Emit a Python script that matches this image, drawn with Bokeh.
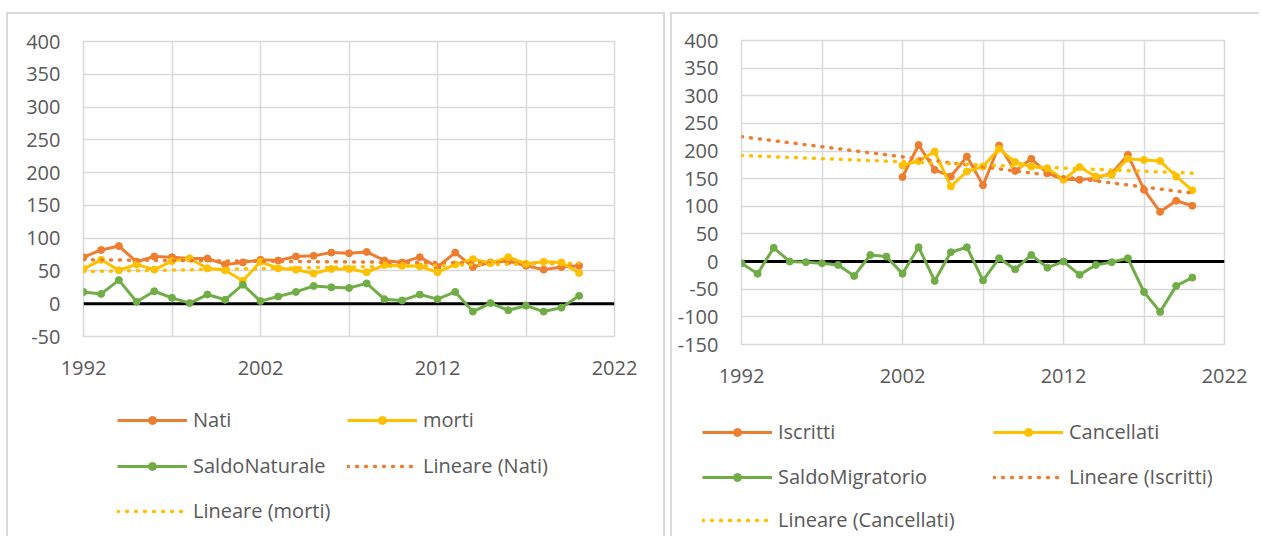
from bokeh.plotting import figure
from bokeh.models import Range1d, FixedTicker, Span, Legend, LegendItem
from bokeh.layouts import row, column
from bokeh.embed import file_html
from bokeh.resources import INLINE

# ---------------- data ----------------
years = [1992, 1993, 1994, 1995, 1996, 1997, 1998, 1999, 2000, 2001,
         2002, 2003, 2004, 2005, 2006, 2007, 2008, 2009, 2010, 2011,
         2012, 2013, 2014, 2015, 2016, 2017, 2018, 2019, 2020]
nati = [71, 82, 88, 64, 72, 71, 69, 69, 60, 63,
        67, 66, 72, 73, 78, 77, 79, 66, 63, 71,
        56, 78, 56, 63, 65, 58, 52, 56, 58]
morti = [53, 67, 51, 60, 52, 65, 69, 54, 51, 35,
         64, 54, 52, 46, 53, 53, 48, 59, 58, 57,
         48, 60, 68, 62, 71, 61, 64, 63, 47]
saldo_naturale = [18, 15, 36, 3, 19, 9, 1, 14, 6, 29,
                  4, 11, 18, 27, 25, 24, 31, 7, 5, 14,
                  7, 18, -12, 1, -10, -3, -12, -6, 12]

years_mov = [2002, 2003, 2004, 2005, 2006, 2007, 2008, 2009, 2010, 2011,
             2012, 2013, 2014, 2015, 2016, 2017, 2018, 2019, 2020]
iscritti = [153, 211, 166, 154, 190, 138, 210, 164, 186, 160,
            149, 148, 151, 160, 193, 130, 90, 110, 101]
cancellati = [174, 182, 199, 136, 163, 172, 204, 180, 172, 169,
              148, 171, 154, 157, 186, 184, 182, 154, 129]
saldo_migratorio = [-3, -22, 25, 0, -1, -3, -6, -26, 12, 9,
                    -22, 26, -35, 17, 26, -34, 6, -14, 12, -11,
                    0, -24, -6, -1, 6, -55, -91, -44, -29]

# linear trend lines ("Lineare"), end values
trend_years = [1992, 2020]
lineare_nati = [67, 61]
lineare_morti = [49, 62]
lineare_iscritti = [226, 124]
lineare_cancellati = [192, 160]

x_ticks = [1992, 2002, 2012, 2022]
x_minor_grid = [1997, 2007, 2017]
y_ticks_left = [-50, 0, 50, 100, 150, 200, 250, 300, 350, 400]
y_ticks_right = [-150, -100, -50, 0, 50, 100, 150, 200, 250, 300, 350, 400]

# ---------------- style ----------------
ORANGE = "#ED7D31"
YELLOW = "#FFC000"
GREEN = "#70AD47"
GRID = "#D9D9D9"
TXT = "#595959"
FONT = "Open Sans"
LEFT_PANEL_STYLE = {
    "background-color": "white",
    "box-shadow": ("inset -3px 0 0 0 white, inset 6px 12px 0 0 white, "
                   "inset 8px 14px 0 0 #D9D9D9, inset -5px 0 0 0 #D9D9D9"),
}
RIGHT_PANEL_STYLE = {
    "background-color": "white",
    "box-shadow": "inset 2px 12px 0 0 white, inset 4px 14px 0 0 #D9D9D9",
}


def base_figure(bl, fw, br, bt, fh, bb, ymin, ymax, yticks):
    p = figure(frame_width=fw, frame_height=fh,
               min_border_left=bl, min_border_right=br,
               min_border_top=bt, min_border_bottom=bb,
               x_range=Range1d(1992, 2022), y_range=Range1d(ymin, ymax),
               output_backend="svg", toolbar_location=None,
               background_fill_color="white", border_fill_alpha=0)
    p.outline_line_color = GRID
    p.outline_line_width = 1.5
    p.xaxis.ticker = FixedTicker(ticks=x_ticks)
    p.yaxis.ticker = FixedTicker(ticks=yticks)
    p.yaxis.major_label_overrides = {v: str(v) for v in yticks}
    p.xaxis.major_label_overrides = {v: str(v) for v in x_ticks}
    p.xgrid.ticker = FixedTicker(ticks=x_ticks, minor_ticks=x_minor_grid)
    p.ygrid.ticker = FixedTicker(ticks=yticks)
    for g in (p.xgrid, p.ygrid):
        g.grid_line_color = GRID
        g.grid_line_width = 1.5
    p.xgrid.minor_grid_line_color = GRID
    p.xgrid.minor_grid_line_width = 1.5
    for ax in (p.xaxis, p.yaxis):
        ax.axis_line_color = None
        ax.major_tick_line_color = None
        ax.minor_tick_line_color = None
        ax.major_tick_in = 0
        ax.major_tick_out = 0
        ax.major_label_text_font = FONT
        ax.major_label_text_font_size = "20px"
        ax.major_label_text_color = TXT
    p.xaxis.major_label_standoff = 24
    p.yaxis.major_label_standoff = 23
    p.add_layout(Span(location=0, dimension="width", line_color="black",
                      line_width=3, level="underlay"))
    return p


def legend_figure(w, h):
    # legend-only figure: its x range lies far from the data, so the key
    # renderers draw nothing in the frame, only in the legend
    p = figure(frame_width=w, frame_height=h, min_border=0,
               x_range=Range1d(0, 1), y_range=Range1d(0, 1),
               output_backend="svg", toolbar_location=None,
               background_fill_alpha=0, border_fill_alpha=0)
    p.axis.visible = False
    p.grid.visible = False
    p.outline_line_color = None
    return p


def series(p, xs, ys, color):
    ln = p.line(xs, ys, line_color=color, line_width=3, line_join="round")
    sc = p.scatter(xs, ys, size=7, fill_color=color, line_color=color)
    return [ln, sc]


def trendline(p, ys, color):
    return [p.line(trend_years, ys, line_color=color, line_width=3.5,
                   line_dash="1 8", line_cap="round")]


def legend_entry(lp, label, rs, x, yc, fig_h):
    lg = Legend(items=[LegendItem(label=label, renderers=rs)],
                location=(x, fig_h - yc - 10), orientation="vertical",
                glyph_width=70, glyph_height=20, label_height=20,
                label_standoff=6, spacing=0, padding=0, margin=0,
                border_line_color=None, background_fill_alpha=0,
                label_text_font=FONT, label_text_font_size="20px",
                label_text_color=TXT, label_text_baseline="middle")
    lp.add_layout(lg, "center")


# ---------------- left chart ----------------
pl = base_figure(83, 531, 54, 41, 295, 45, -50, 400, y_ticks_left)
series(pl, years, nati, ORANGE)
series(pl, years, morti, YELLOW)
series(pl, years, saldo_naturale, GREEN)
trendline(pl, lineare_nati, ORANGE)
trendline(pl, lineare_morti, YELLOW)

LH_L = 155
ll = legend_figure(668, LH_L)
legend_entry(ll, "Nati", series(ll, years, nati, ORANGE), 117, 42, LH_L)
legend_entry(ll, "morti", series(ll, years, morti, YELLOW), 347, 42, LH_L)
legend_entry(ll, "SaldoNaturale", series(ll, years, saldo_naturale, GREEN), 117, 88, LH_L)
legend_entry(ll, "Lineare (Nati)", trendline(ll, lineare_nati, ORANGE), 347, 88, LH_L)
legend_entry(ll, "Lineare (morti)", trendline(ll, lineare_morti, YELLOW), 117, 133, LH_L)

# ---------------- right chart ----------------
pr = base_figure(73, 483, 35, 40, 304, 45, -150, 400, y_ticks_right)
series(pr, years_mov, iscritti, ORANGE)
series(pr, years_mov, cancellati, YELLOW)
series(pr, years, saldo_migratorio, GREEN)
trendline(pr, lineare_iscritti, ORANGE)
trendline(pr, lineare_cancellati, YELLOW)

LH_R = 147
lr = legend_figure(591, LH_R)
legend_entry(lr, "Iscritti", series(lr, years_mov, iscritti, ORANGE), 34, 46, LH_R)
legend_entry(lr, "Cancellati", series(lr, years_mov, cancellati, YELLOW), 325, 46, LH_R)
legend_entry(lr, "SaldoMigratorio", series(lr, years, saldo_migratorio, GREEN), 34, 91, LH_R)
legend_entry(lr, "Lineare (Iscritti)", trendline(lr, lineare_iscritti, ORANGE), 325, 91, LH_R)
legend_entry(lr, "Lineare (Cancellati)", trendline(lr, lineare_cancellati, YELLOW), 34, 134, LH_R)

left_panel = column(pl, ll, spacing=0)
right_panel = column(pr, lr, spacing=0)
left_panel.styles = LEFT_PANEL_STYLE
right_panel.styles = RIGHT_PANEL_STYLE
layout = row(left_panel, right_panel, spacing=0)
open("out.html", "w").write(file_html(layout, INLINE))
